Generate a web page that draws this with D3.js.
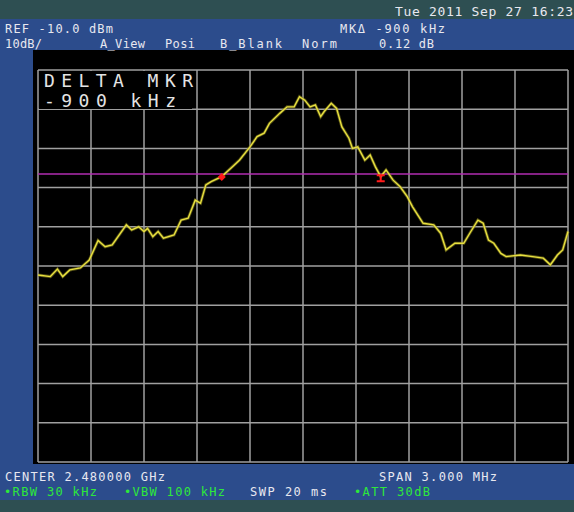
<!DOCTYPE html>
<html>
<head>
<meta charset="UTF-8">
<script src="https://d3js.org/d3.v7.min.js"></script>
<style>
  body { margin: 0; background: #2e4f52; }
  text { font-family: "DejaVu Sans Mono", monospace; }
</style>
</head>
<body>
<div id="analyzer"></div>
<script>
// trace: offset from centre (MHz) and level (dBm)
const freqOffsets = [-1.50, -1.43, -1.39, -1.36, -1.32, -1.26, -1.21, -1.16, -1.12, -1.08,
  -1.00, -0.97, -0.93, -0.90, -0.88, -0.85, -0.82, -0.79, -0.73, -0.69,
  -0.65, -0.61, -0.58, -0.55, -0.52, -0.46, -0.41, -0.36, -0.30, -0.26,
  -0.22, -0.19, -0.13, -0.09, -0.05, -0.02, 0.01, 0.04, 0.07, 0.10,
  0.12, 0.16, 0.19, 0.22, 0.26, 0.28, 0.31, 0.35, 0.38, 0.41,
  0.44, 0.47, 0.51, 0.55, 0.59, 0.62, 0.68, 0.74, 0.78, 0.81,
  0.86, 0.91, 0.95, 0.99, 1.02, 1.05, 1.08, 1.12, 1.15, 1.23,
  1.30, 1.36, 1.40, 1.44, 1.47, 1.50];
const levels = [-62.3, -62.7, -60.8, -62.7, -61.0, -60.5, -58.5, -53.5, -55.1, -54.6,
  -49.5, -50.8, -50.0, -51.2, -50.4, -52.5, -51.2, -52.9, -52.1, -48.3,
  -47.8, -43.2, -44.0, -39.3, -38.5, -37.2, -35.1, -33.0, -29.6, -27.0,
  -26.1, -23.6, -21.0, -19.4, -19.4, -16.8, -17.7, -19.4, -18.9, -21.9,
  -20.6, -18.5, -19.8, -24.5, -27.4, -30.0, -29.6, -33.0, -31.7, -34.7,
  -37.2, -35.5, -38.1, -39.8, -42.3, -44.9, -49.1, -49.5, -51.7, -55.9,
  -54.2, -54.2, -51.2, -48.3, -49.1, -53.4, -54.2, -56.8, -57.6, -57.2,
  -57.6, -58.0, -59.7, -57.2, -55.9, -51.2];

const refLevel = -10, dbPerDiv = 10, span = 3.0;
const displayLine = -36.5;
const markers = [{f: -0.46, db: -37.3, kind: "diamond"}, {f: 0.44, db: -37.6, kind: "delta"}];

// status line texts: start x, baseline y, drawn width
const whiteTexts = [
  {t: "REF -10.0 dBm", x: 5, y: 33, w: 108}, {t: "MK\u0394 -900 kHz", x: 340, y: 33, w: 105},
  {t: "10dB/", x: 5, y: 48, w: 37}, {t: "A_View", x: 100, y: 48, w: 45}, {t: "Posi", x: 165, y: 48, w: 30},
  {t: "B_Blank", x: 220, y: 48, w: 62}, {t: "Norm", x: 302, y: 48, w: 35}, {t: "0.12 dB", x: 379, y: 48, w: 55},
  {t: "CENTER 2.480000 GHz", x: 5, y: 481, w: 160}, {t: "SPAN 3.000 MHz", x: 379, y: 481, w: 118},
  {t: "SWP 20 ms", x: 250, y: 496, w: 77}
];
const greenTexts = [
  {t: "\u2022RBW 30 kHz", x: 4, y: 496, w: 93}, {t: "\u2022VBW 100 kHz", x: 124, y: 496, w: 101},
  {t: "\u2022ATT 30dB", x: 354, y: 496, w: 76}
];

const W = 574, H = 512;
const svg = d3.select("#analyzer").append("svg")
  .attr("width", W).attr("height", H);

// panels
svg.append("rect").attr("width", W).attr("height", H).attr("fill", "#2e4f52");
svg.append("rect").attr("x", 0).attr("y", 19).attr("width", W).attr("height", 481).attr("fill", "#2c4c8c");
svg.append("rect").attr("x", 33).attr("y", 50).attr("width", W - 33).attr("height", 414).attr("fill", "#000");

const x = d3.scaleLinear().domain([-span / 2, span / 2]).range([38, 568]);
const y = d3.scaleLinear().domain([refLevel - 10 * dbPerDiv, refLevel]).range([462, 70]);

// graticule
const grid = svg.append("g").attr("stroke", "#a0a0a0").attr("stroke-width", 1.5);
grid.selectAll(".v").data(d3.range(11)).join("line")
  .attr("x1", i => x(-span / 2 + i * span / 10)).attr("x2", i => x(-span / 2 + i * span / 10))
  .attr("y1", y(refLevel)).attr("y2", y(refLevel - 10 * dbPerDiv));
grid.selectAll(".h").data(d3.range(11)).join("line")
  .attr("y1", i => y(refLevel - i * dbPerDiv)).attr("y2", i => y(refLevel - i * dbPerDiv))
  .attr("x1", x(-span / 2)).attr("x2", x(span / 2));

// black box behind the marker readout
svg.append("rect").attr("x", 39).attr("y", 71).attr("width", 153).attr("height", 38).attr("fill", "#000");
svg.append("text").attr("x", 44).attr("y", 87).attr("fill", "#e4e4e4")
  .style("font-size", "18px").attr("textLength", 149).attr("lengthAdjust", "spacing").text("DELTA MKR");
svg.append("text").attr("x", 44).attr("y", 107).attr("fill", "#e4e4e4")
  .style("font-size", "18px").attr("textLength", 132).attr("lengthAdjust", "spacing").text("-900 kHz");

// display line
svg.append("line").attr("x1", x(-span / 2)).attr("x2", x(span / 2))
  .attr("y1", y(displayLine)).attr("y2", y(displayLine))
  .attr("stroke", "#b02cb0").attr("stroke-width", 1.5);

// trace
const pts = freqOffsets.map((f, i) => [f, levels[i]]);
const line = d3.line().x(d => x(d[0])).y(d => y(d[1]));
svg.append("path").datum(pts).attr("d", line).attr("fill", "none")
  .attr("stroke", "#8a8420").attr("stroke-width", 3).attr("opacity", 0.6);
svg.append("path").datum(pts).attr("d", line).attr("fill", "none")
  .attr("stroke", "#e8e040").attr("stroke-width", 1.4);

// markers
markers.forEach(m => {
  const mx = x(m.f), my = y(m.db);
  if (m.kind === "diamond") {
    svg.append("path").attr("d", `M${mx},${my - 4}L${mx + 4},${my}L${mx},${my + 4}L${mx - 4},${my}Z`)
      .attr("fill", "#ff1a1a");
  } else {
    svg.append("path")
      .attr("d", `M${mx - 4},${my - 4}H${mx + 4}V${my - 2}H${mx + 1}V${my + 2}H${mx + 4}V${my + 4}H${mx - 4}V${my + 2}H${mx - 1}V${my - 2}H${mx - 4}Z`)
      .attr("fill", "#ff1a1a");
  }
});

// status texts
svg.append("text").attr("x", 395).attr("y", 16).attr("fill", "#e8e8f0")
  .style("font-size", "13px").attr("textLength", 178).text("Tue 2011 Sep 27 16:23");
svg.selectAll(".wht").data(whiteTexts).join("text")
  .attr("x", d => d.x).attr("y", d => d.y).attr("fill", "#e8e8f0")
  .style("font-size", "12px").attr("textLength", d => d.w)
  .text(d => d.t);
svg.selectAll(".grn").data(greenTexts).join("text")
  .attr("x", d => d.x).attr("y", d => d.y).attr("fill", "#2ee83a")
  .style("font-size", "12px").attr("textLength", d => d.w)
  .text(d => d.t);
</script>
</body>
</html>
